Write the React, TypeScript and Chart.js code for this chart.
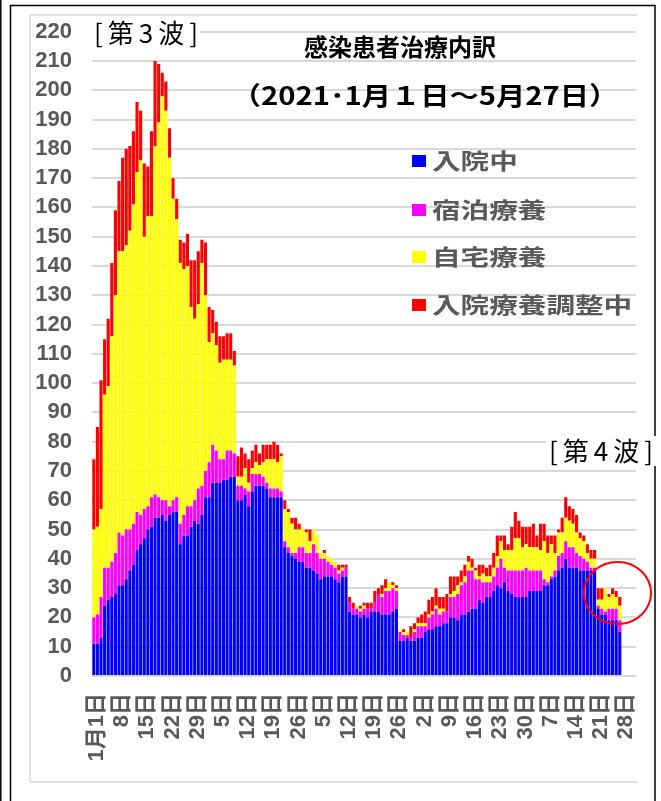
import React, { useEffect, useRef } from "react";
import { Chart, registerables } from "chart.js";

Chart.register(...registerables);

// Category slots: Jan 1 – May 31 (data through May 27)
const SLOT_COUNT = 151;
const TICK_STEP = 7;
const tickLabels = [
  "1月1日", "8日", "15日", "22日", "29日", "5日", "12日", "19日", "26日",
  "5日", "12日", "19日", "26日", "2日", "9日", "16日", "23日", "30日",
  "7日", "14日", "21日", "28日",
];

const seriesNames = ["入院中", "宿泊療養", "自宅療養", "入院療養調整中"];
const seriesColors = ["#0000FF", "#FF00FF", "#FFFF00", "#FF0000"];

// 入院中
const hospitalized = [
  11, 11, 13, 24, 26, 27, 28, 31, 31, 33,
  36, 38, 43, 45, 47, 50, 51, 54, 54, 55,
  53, 55, 56, 56, 45, 48, 48, 51, 53, 52,
  55, 61, 61, 66, 66, 66, 67, 67, 68, 68,
  60, 60, 62, 58, 63, 65, 65, 65, 64, 61,
  61, 61, 61, 44, 42, 41, 40, 39, 39, 37,
  37, 36, 35, 33, 34, 34, 34, 33, 32, 34,
  34, 22, 21, 21, 20, 21, 20, 22, 22, 22,
  21, 21, 21, 22, 23, 12, 12, 13, 12, 12,
  13, 13, 15, 16, 16, 17, 17, 18, 18, 20,
  20, 19, 21, 21, 22, 23, 23, 26, 25, 27,
  27, 29, 31, 30, 32, 29, 28, 27, 27, 27,
  27, 29, 29, 29, 29, 31, 31, 33, 34, 36,
  37, 40, 37, 37, 37, 36, 36, 36, 36, 36,
  23, 21, 21, 19, 19, 19, 15,
];

// 宿泊療養
const hotel = [
  9, 10, 14, 13, 11, 12, 14, 18, 17, 17,
  14, 14, 13, 10, 10, 8, 10, 8, 7, 5,
  7, 3, 4, 5, 7, 7, 10, 7, 7, 12,
  10, 9, 12, 13, 11, 8, 7, 10, 9, 8,
  5, 5, 2, 5, 6, 4, 4, 3, 2, 3,
  3, 3, 2, 2, 2, 1, 2, 5, 5, 5,
  5, 9, 7, 7, 6, 5, 4, 4, 3, 2,
  3, 3, 2, 2, 2, 2, 3, 1, 3, 6,
  6, 8, 8, 8, 6, 3, 2, 1, 1, 3,
  4, 4, 2, 4, 5, 6, 4, 4, 4, 7,
  7, 9, 10, 11, 14, 13, 10, 7, 7, 5,
  5, 5, 6, 10, 5, 7, 8, 9, 9, 9,
  10, 7, 7, 7, 7, 2, 1, 1, 2, 5,
  5, 6, 7, 7, 5, 5, 4, 3, 1, 1,
  1, 2, 1, 4, 4, 4, 4,
];

// 自宅療養
const home = [
  30, 30, 30, 59, 62, 77, 88, 96, 97, 97,
  102, 109, 116, 121, 93, 99, 96, 119, 128, 138,
  133, 119, 103, 95, 89, 84, 82, 68, 62, 63,
  76, 60, 41, 38, 36, 33, 34, 31, 31, 30,
  3, 3, 7, 3, 2, 4, 3, 5, 8, 10,
  10, 9, 12, 11, 12, 10, 8, 6, 7, 7,
  4, 5, 6, 2, 2, 2, 2, 2, 1, 1,
  0, 0, 0, 1, 1, 1, 0, 0, 0, 0,
  1, 1, 3, 1, 1, 1, 1, 1, 0, 1,
  1, 1, 1, 1, 1, 1, 2, 1, 0, 1,
  2, 3, 1, 2, 3, 1, 3, 1, 3, 2,
  2, 3, 4, 6, 6, 7, 7, 11, 11, 8,
  8, 8, 8, 8, 7, 13, 10, 11, 6, 8,
  7, 8, 9, 8, 7, 6, 6, 3, 3, 3,
  2, 3, 8, 4, 5, 4, 5,
];

// 入院療養調整中
const adjusting = [
  24, 34, 44, 19, 23, 25, 29, 24, 32, 33,
  29, 25, 24, 17, 25, 17, 29, 29, 20, 8,
  10, 10, 7, 7, 8, 9, 11, 16, 20, 18,
  8, 18, 12, 8, 8, 9, 8, 9, 9, 5,
  7, 10, 5, 8, 6, 6, 4, 6, 5, 5,
  6, 6, 1, 3, 1, 2, 4, 2, 0, 1,
  4, 0, 0, 0, 1, 0, 0, 0, 2, 1,
  1, 2, 2, 0, 1, 1, 2, 2, 4, 2,
  3, 3, 0, 1, 1, 0, 1, 0, 4, 2,
  2, 3, 4, 5, 5, 6, 4, 4, 6, 6,
  5, 3, 4, 4, 2, 3, 1, 4, 3, 3,
  4, 5, 7, 2, 5, 2, 8, 9, 6, 7,
  6, 7, 8, 4, 9, 6, 6, 3, 6, 1,
  5, 7, 5, 5, 6, 2, 2, 3, 3, 3,
  4, 4, 0, 1, 2, 2, 3,
];

const titleText = "感染患者治療内訳";
const subtitleText = "（2021･1月１日～5月27日）";
const wave3Text = "[第3波]";
const wave4Text = "[第4波]";

const GRAY = "#595959";
const TICK_FONT = "'Liberation Sans', Arial, 'Noto Sans CJK JP', sans-serif";
const JP_FONT = "'Noto Sans CJK JP', 'Liberation Sans', sans-serif";

function drawText(
  ctx: CanvasRenderingContext2D,
  text: string,
  x: number,
  y: number,
  font: string,
  color: string,
  align: CanvasTextAlign,
  scaleX = 1,
  spacing = "0px"
) {
  ctx.save();
  ctx.font = font;
  ctx.fillStyle = color;
  ctx.textAlign = align;
  ctx.textBaseline = "middle";
  (ctx as any).letterSpacing = spacing;
  ctx.translate(x, y);
  ctx.scale(scaleX, 1);
  ctx.fillText(text, 0, 0);
  ctx.restore();
}

const overlayPlugin = {
  id: "overlay",
  afterDraw(chart: any) {
    const ctx: CanvasRenderingContext2D = chart.ctx;
    ctx.save();

    // outer frames
    ctx.strokeStyle = "#000";
    ctx.lineWidth = 1.5;
    ctx.beginPath();
    ctx.moveTo(10.5, 820);
    ctx.lineTo(10.5, 5.5);
    ctx.lineTo(655, 5.5);
    ctx.lineTo(655, 820);
    ctx.stroke();
    ctx.beginPath();
    ctx.moveTo(0.8, 0);
    ctx.lineTo(0.8, 801);
    ctx.stroke();

    // chart area border (light gray)
    ctx.strokeStyle = "#d9d9d9";
    ctx.lineWidth = 1.5;
    ctx.beginPath();
    ctx.moveTo(30, 15);
    ctx.lineTo(637, 15);
    ctx.moveTo(30, 782);
    ctx.lineTo(637, 782);
    ctx.moveTo(30, 15);
    ctx.lineTo(30, 782);
    ctx.stroke();

    // wave labels with white backing
    ctx.fillStyle = "#fff";
    ctx.fillRect(90, 19, 110, 29);
    ctx.fillRect(546, 436, 110, 30);
    drawText(ctx, wave3Text, 94, 33, `26px ${JP_FONT}`, "#000", "left", 1, "5px");
    drawText(ctx, wave4Text, 549, 451, `26px ${JP_FONT}`, "#000", "left", 1, "5px");

    // titles
    drawText(ctx, titleText, 400, 47, `bold 24px ${JP_FONT}`, "#000", "center");
    drawText(ctx, subtitleText, 425, 95, `bold 25px ${JP_FONT}`, "#000", "center", 1.17);

    // legend
    const legendY = [161, 210, 257, 305];
    seriesNames.forEach((name, i) => {
      ctx.fillStyle = seriesColors[i];
      ctx.fillRect(412, legendY[i] - 6, 14, 12);
      drawText(ctx, name, 432, legendY[i], `bold 22px ${JP_FONT}`, GRAY, "left", 1.3);
    });

    // red ellipse
    ctx.strokeStyle = "#ff0000";
    ctx.lineWidth = 2;
    ctx.beginPath();
    ctx.ellipse(617.5, 593, 33.5, 31, 0, 0, Math.PI * 2);
    ctx.stroke();

    ctx.restore();
  },
};

export default function App() {
  const canvasRef = useRef<HTMLCanvasElement | null>(null);

  useEffect(() => {
    if (!canvasRef.current) return;
    const slots = Array.from({ length: SLOT_COUNT }, (_, i) => `d${i}`);
    const seriesData = [hospitalized, hotel, home, adjusting];
    const chart = new Chart(canvasRef.current, {
      type: "bar",
      data: {
        labels: slots,
        datasets: seriesNames.map((name, i) => ({
          label: name,
          data: seriesData[i],
          backgroundColor: seriesColors[i],
          borderWidth: 0,
          categoryPercentage: 1,
          barPercentage: 0.86,
        })),
      },
      options: {
        responsive: false,
        animation: false,
        layout: { padding: { left: 0, right: 25, top: 31.7, bottom: 0 } },
        plugins: {
          legend: { display: false },
          title: { display: false },
          tooltip: { enabled: false },
        },
        scales: {
          x: {
            stacked: true,
            offset: true,
            grid: { display: false, drawTicks: false },
            border: { display: false },
            ticks: {
              autoSkip: false,
              minRotation: 90,
              maxRotation: 90,
              padding: 17,
              labelOffset: 3,
              color: GRAY,
              font: { family: TICK_FONT, size: 22, weight: "bold" },
              callback: (_v: any, i: number) =>
                i % TICK_STEP === 0 ? tickLabels[i / TICK_STEP] ?? "" : "",
            },
            afterFit: (s: any) => {
              s.height = 125;
              s.paddingLeft = 0;
              s.paddingRight = 0;
            },
          },
          y: {
            stacked: true,
            min: 0,
            max: 220,
            grid: { color: "#d9d9d9", lineWidth: 2, drawTicks: false },
            border: { display: false },
            ticks: {
              stepSize: 10,
              autoSkip: false,
              padding: 20,
              color: GRAY,
              font: { family: TICK_FONT, size: 22, weight: "bold" },
            },
            afterFit: (s: any) => {
              s.width = 92;
              s.paddingTop = 0;
              s.paddingBottom = 0;
            },
          },
        },
      } as any,
      plugins: [overlayPlugin],
    });
    return () => chart.destroy();
  }, []);

  return (
    <div style={{ position: "absolute", left: 0, top: 0, width: 661, height: 801, background: "#fff" }}>
      <canvas ref={canvasRef} width={661} height={801} style={{ display: "block" }} />
    </div>
  );
}
